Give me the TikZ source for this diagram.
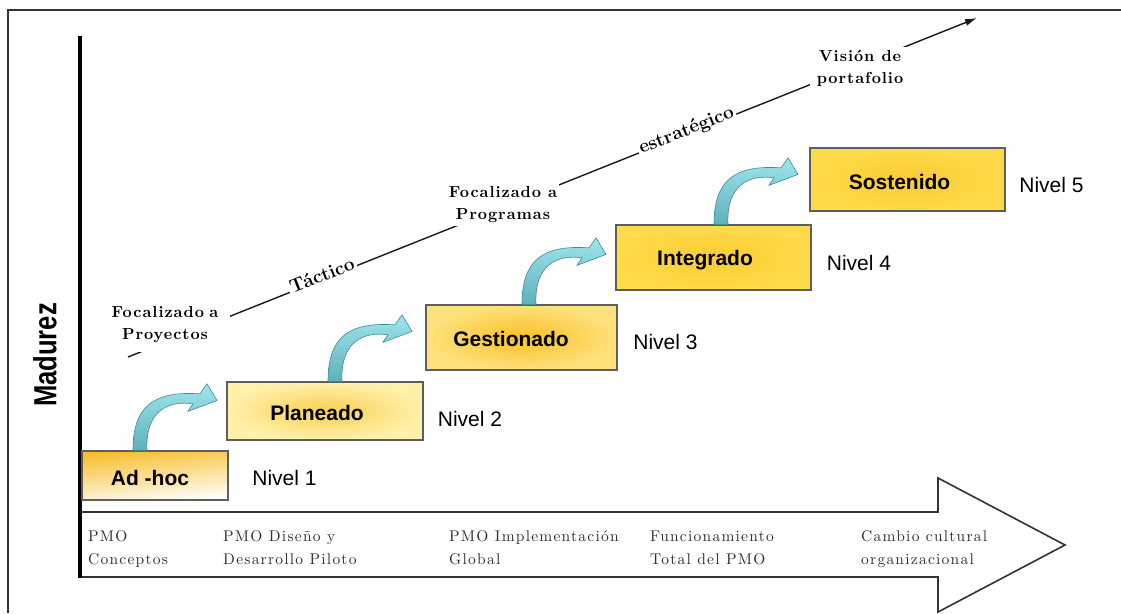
\documentclass[tikz,border=0pt]{standalone}
\usepackage{fontspec}
\usetikzlibrary{arrows.meta}
\newfontfamily\sansfont{Liberation Sans}
\newfontfamily\phasefont{lmroman10-regular.otf}[LetterSpace=8]
\newfontfamily\stagefont{lmroman10-bold.otf}[LetterSpace=6]

\definecolor{framegray}{HTML}{333333}
\definecolor{boxgray}{HTML}{5E5E5E}
\definecolor{phasegray}{HTML}{2E2E2E}
\definecolor{flowlight}{HTML}{9FE5EE}
\definecolor{flowdark}{HTML}{5FB0BC}
\definecolor{flowedge}{HTML}{3C8C99}

\begin{document}
\begin{tikzpicture}[x=1pt,y=-1pt,
  levelbox/.style={draw=boxgray, line width=1.1pt, inner sep=0pt},
  leveltext/.style={font=\sansfont\bfseries\fontsize{21}{25}\selectfont, anchor=base, inner sep=0pt},
  niveltext/.style={font=\sansfont\fontsize{21}{25}\selectfont, anchor=base, inner sep=0pt},
  phasetext/.style={font=\phasefont\fontsize{15.5}{23}\selectfont, align=left, anchor=north west, inner sep=0pt, text=phasegray},
  stagetext/.style={font=\stagefont\fontsize{16}{22}\selectfont, align=center, fill=white, inner sep=3pt},
  trendtext/.style={font=\bfseries\fontsize{19}{22}\selectfont, fill=white, anchor=base, inner xsep=2pt, inner ysep=1pt, rotate=21.7},
  trendline/.style={draw=black!90, line width=1.4pt, -{Latex[length=12pt,width=7pt]}},
  phasearrow/.style={draw=framegray, line width=1.6pt, fill=white, line join=miter},
  flowarrow/.pic={
    \path[top color=flowlight, bottom color=flowdark, draw=flowedge, line width=0.6pt, line join=round]
      (0,0) .. controls (0,-42) and (18,-60) .. (67,-56.6)
      -- (74,-66.7) -- (84,-50) -- (54.7,-39) -- (60,-46.6)
      .. controls (38,-50) and (12,-42) .. (14,0) -- cycle;
  }]
\useasboundingbox (0,0) rectangle (1121,613);

% outer frame
\draw[framegray, line width=1.5pt] (8,613) -- (8,10) -- (1121,10);

% phase arrow along the bottom
\draw[phasearrow] (80,512) -- (938,512) -- (938,478) -- (1065,545)
  -- (938,612) -- (938,577) -- (80,577);

% maturity axis
\draw[black, line width=3.5pt] (80,36) -- (80,578);
\node[font=\sansfont\bfseries\fontsize{32}{34}\selectfont, rotate=90, inner sep=0pt] (axislbl) at (45,355) {\scalebox{0.8}[1]{Madurez}};

% maturity levels
\node[levelbox, minimum width=146pt, minimum height=49pt,
      top color={rgb,255:red,247;green,190;blue,42}, bottom color=white, shading angle=6] (adhoc) at (155,475.5) {};
\node[levelbox, minimum width=196pt, minimum height=58pt,
      inner color={rgb,255:red,248;green,208;blue,84}, outer color={rgb,255:red,255;green,240;blue,170}] (planeado) at (325,411) {};
\node[levelbox, minimum width=191pt, minimum height=65pt,
      inner color={rgb,255:red,247;green,192;blue,40}, outer color={rgb,255:red,255;green,225;blue,124}] (gestionado) at (521.5,337.5) {};
\node[levelbox, minimum width=195pt, minimum height=65pt,
      inner color={rgb,255:red,249;green,205;blue,50}, outer color={rgb,255:red,255;green,218;blue,74}] (integrado) at (713.5,257.5) {};
\node[levelbox, minimum width=195pt, minimum height=63pt,
      inner color={rgb,255:red,248;green,204;blue,52}, outer color={rgb,255:red,255;green,218;blue,72}] (sostenido) at (907.5,179.5) {};

\node[leveltext] (adhocT) at (150,485.5) {Ad -hoc};
\node[leveltext] (planeadoT) at (317,420.5) {Planeado};
\node[leveltext] (gestionadoT) at (511,346.5) {Gestionado};
\node[leveltext] (integradoT) at (705,265.5) {Integrado};
\node[leveltext] (sostenidoT) at (899.5,189.5) {Sostenido};

\node[niveltext] (n1) at (284.5,485.5) {Nivel 1};
\node[niveltext] (n2) at (470,426.5) {Nivel 2};
\node[niveltext] (n3) at (665.5,349.5) {Nivel 3};
\node[niveltext] (n4) at (859,270.5) {Nivel 4};
\node[niveltext] (n5) at (1051.5,192.5) {Nivel 5};

% step-up arrows between levels
\pic at ([xshift=-22pt]adhoc.north) {flowarrow};
\pic at ([xshift=3pt]planeado.north) {flowarrow};
\pic at ([xshift=0.5pt]gestionado.north) {flowarrow};
\pic at ([xshift=0.5pt]integrado.north) {flowarrow};

% trend line from tactical to strategic focus
\coordinate (trendStart) at (128,357);
\coordinate (trendEnd) at (977,18);
\draw[trendline] (trendStart) -- (trendEnd);

\node[stagetext, inner xsep=0pt, text width=123pt, minimum height=54pt] (proy) at (168.5,325)
  {\hspace*{-7pt}Focalizado a\\\hspace*{-7pt}Proyectos};
\node[trendtext] (tactico) at (324.3,281.3) {Táctico};
\node[stagetext, inner xsep=2pt] (prog) at (503,205) {Focalizado a\\Programas};
\node[trendtext] (estrat) at (688.3,135.3) {estratégico};
\node[stagetext, inner xsep=7pt] (port) at (860,68) {Visión de\\portafolio};

% project phases
\node[phasetext] (p1) at (88,530.5) {PMO\\Conceptos};
\node[phasetext] (p2) at (223,530.5) {PMO Diseño y\\Desarrollo Piloto};
\node[phasetext] (p3) at (449,530.5) {PMO Implementación\\Global};
\node[phasetext] (p4) at (650,530.5) {Funcionamiento\\Total del PMO};
\node[phasetext] (p5) at (861,530.5) {Cambio cultural\\organizacional};
\end{tikzpicture}
\end{document}
